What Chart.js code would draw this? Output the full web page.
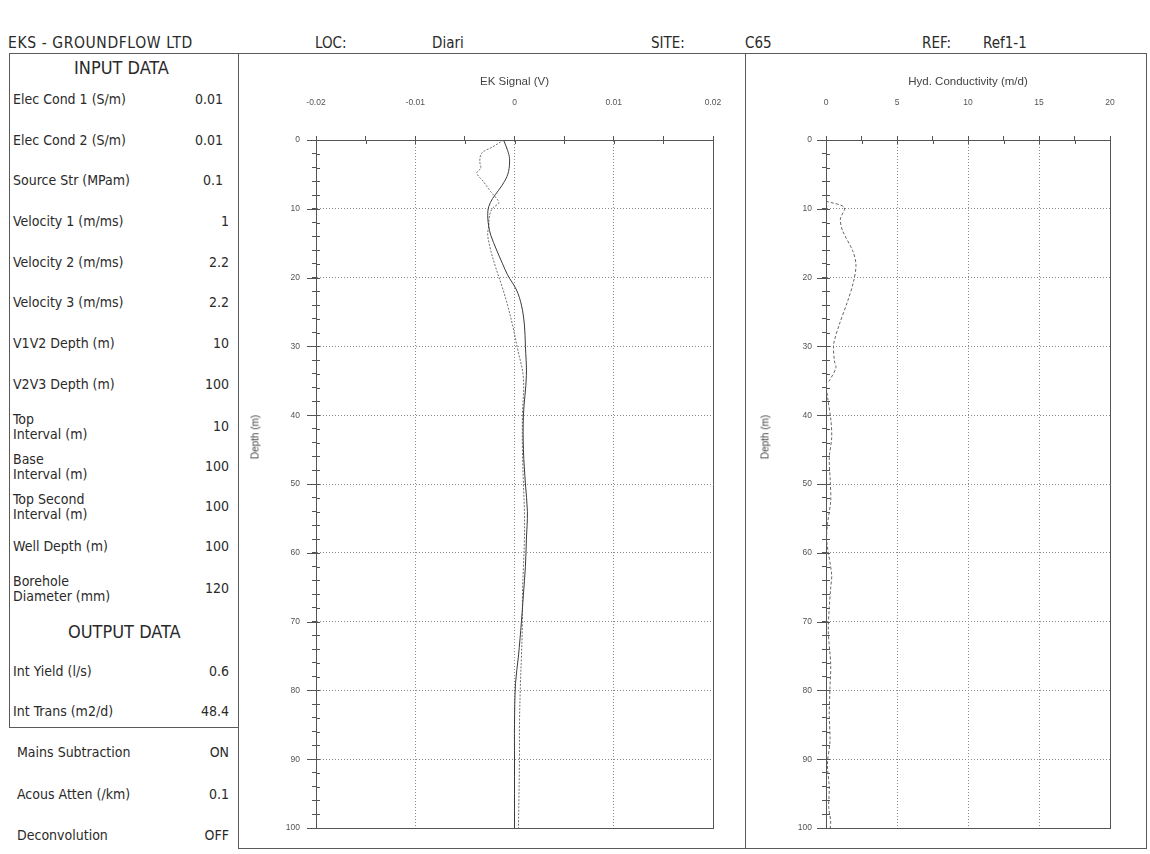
<!DOCTYPE html>
<html><head><meta charset="utf-8">
<script src="https://cdn.jsdelivr.net/npm/chart.js@4.4.1/dist/chart.umd.min.js"></script>
<style>
body{margin:0;width:1150px;height:854px;background:#fff;position:relative;overflow:hidden;font-family:'DejaVu Sans Condensed','DejaVu Sans',sans-serif;color:#2a2a2a;}
.t{position:absolute;white-space:nowrap;font-size:14px;line-height:15px;}
.r{text-align:right;}
.hd{position:absolute;white-space:nowrap;font-size:15px;line-height:18px;top:34px;}
.big{position:absolute;white-space:nowrap;font-size:18px;line-height:20px;}
.ln{position:absolute;background:#5a5a5a;}
.yt{position:absolute;white-space:nowrap;font-family:'Liberation Sans',Arial,sans-serif;font-size:10px;color:#444;transform:translate(-50%,-50%) rotate(-90deg);}
canvas{position:absolute;}
</style></head><body>

<div class="hd" style="left:8px;font-size:15.5px;letter-spacing:0.6px">EKS - GROUNDFLOW LTD</div>
<div class="hd" style="left:315px">LOC:</div>
<div class="hd" style="left:432px">Diari</div>
<div class="hd" style="left:651px">SITE:</div>
<div class="hd" style="left:745px">C65</div>
<div class="hd" style="left:922px">REF:</div>
<div class="hd" style="left:983px">Ref1-1</div>

<div class="ln" style="left:9px;top:53px;width:1138px;height:1px"></div>
<div class="ln" style="left:9px;top:53px;width:1px;height:675px"></div>
<div class="ln" style="left:9px;top:727px;width:230px;height:1px"></div>
<div class="ln" style="left:238px;top:53px;width:1px;height:796px"></div>
<div class="ln" style="left:745px;top:53px;width:1px;height:796px"></div>
<div class="ln" style="left:1146px;top:53px;width:1px;height:796px"></div>
<div class="ln" style="left:238px;top:848px;width:909px;height:1px"></div>

<div class="big" style="left:74px;top:58px">INPUT DATA</div>
<div class="t" style="left:13px;top:92px">Elec Cond 1 (S/m)</div><div class="t r" style="right:927px;top:92px">0.01</div>
<div class="t" style="left:13px;top:133px">Elec Cond 2 (S/m)</div><div class="t r" style="right:927px;top:133px">0.01</div>
<div class="t" style="left:13px;top:173px">Source Str (MPam)</div><div class="t r" style="right:927px;top:173px">0.1</div>
<div class="t" style="left:13px;top:214px">Velocity 1 (m/ms)</div><div class="t r" style="right:921px;top:214px">1</div>
<div class="t" style="left:13px;top:255px">Velocity 2 (m/ms)</div><div class="t r" style="right:921px;top:255px">2.2</div>
<div class="t" style="left:13px;top:295px">Velocity 3 (m/ms)</div><div class="t r" style="right:921px;top:295px">2.2</div>
<div class="t" style="left:13px;top:336px">V1V2 Depth (m)</div><div class="t r" style="right:921px;top:336px">10</div>
<div class="t" style="left:13px;top:377px">V2V3 Depth (m)</div><div class="t r" style="right:921px;top:377px">100</div>
<div class="t" style="left:13px;top:412px">Top<br>Interval (m)</div><div class="t r" style="right:921px;top:419px">10</div>
<div class="t" style="left:13px;top:452px">Base<br>Interval (m)</div><div class="t r" style="right:921px;top:459px">100</div>
<div class="t" style="left:13px;top:492px">Top Second<br>Interval (m)</div><div class="t r" style="right:921px;top:499px">100</div>
<div class="t" style="left:13px;top:539px">Well Depth (m)</div><div class="t r" style="right:921px;top:539px">100</div>
<div class="t" style="left:13px;top:574px">Borehole<br>Diameter (mm)</div><div class="t r" style="right:921px;top:581px">120</div>
<div class="big" style="left:68px;top:622px">OUTPUT DATA</div>
<div class="t" style="left:13px;top:664px">Int Yield (l/s)</div><div class="t r" style="right:921px;top:664px">0.6</div>
<div class="t" style="left:13px;top:704px">Int Trans (m2/d)</div><div class="t r" style="right:921px;top:704px">48.4</div>
<div class="t" style="left:17px;top:745px">Mains Subtraction</div><div class="t r" style="right:921px;top:745px">ON</div>
<div class="t" style="left:17px;top:787px">Acous Atten (/km)</div><div class="t r" style="right:921px;top:787px">0.1</div>
<div class="t" style="left:17px;top:828px">Deconvolution</div><div class="t r" style="right:921px;top:828px">OFF</div>

<canvas id="ek" width="500" height="790" style="left:240px;top:56px"></canvas>
<canvas id="hyd" width="396" height="790" style="left:748px;top:56px"></canvas>
<div class="yt" style="left:255px;top:437px">Depth (m)</div>
<div class="yt" style="left:765px;top:437px">Depth (m)</div>

<script>
// ---- data ----
const ekSolidDepth  = [0, 1.5, 2.7, 4.6, 6, 7.3, 8.5, 9.7, 11, 12.5, 13.8, 16, 18, 19.6, 21.8, 24, 26.9, 30, 34.2, 40, 45, 50, 54, 58, 62, 66, 70, 75, 79, 85, 90, 100];
const ekSolidSignal = [-0.0011, -0.0007, -0.0005, -0.0006, -0.0010, -0.0016, -0.0022, -0.0026, -0.0027, -0.0026, -0.0024, -0.0018, -0.0012, -0.0007, 0.0002, 0.0007, 0.0010, 0.0011, 0.0012, 0.0009, 0.0009, 0.0011, 0.0013, 0.0012, 0.0011, 0.0009, 0.0007, 0.0004, 0.0001, 0.0000, 0.0000, 0.0000];
const ekDashedDepth  = [0, 1, 1.9, 3.1, 4.1, 4.8, 6.1, 7.5, 8.7, 9.2, 9.9, 10.9, 12.5, 13.8, 16, 18.5, 21.1, 24, 26.9, 30.3, 34.6, 40, 45, 50, 54, 58, 62, 66, 70, 75, 79, 85, 90, 100];
const ekDashedSignal = [-0.0011, -0.0022, -0.0033, -0.0035, -0.0034, -0.0038, -0.0031, -0.0024, -0.0017, -0.0016, -0.0022, -0.0025, -0.0026, -0.0027, -0.0024, -0.0019, -0.0013, -0.0007, -0.0002, 0.0003, 0.0009, 0.0008, 0.0008, 0.0009, 0.0010, 0.0010, 0.0009, 0.0008, 0.0008, 0.0007, 0.0006, 0.0005, 0.0005, 0.0004];
const hydDepth = [8.9, 9.8, 11.5, 13.2, 16.1, 18.1, 20.5, 23.4, 26.8, 29.7, 32.1, 33.1, 35.0, 35.5, 37.5, 40.8, 43.3, 46.2, 49.6, 52.5, 55.9, 58.3, 63.2, 65.1, 68.0, 71.4, 76.2, 79.6, 83.5, 87.4, 90.7, 94.1, 97.0, 99.0, 100];
const hydK     = [0, 1.29, 1.01, 1.17, 1.88, 2.11, 1.95, 1.53, 0.94, 0.54, 0.59, 0.70, 0.23, 0.02, 0.12, 0.35, 0.40, 0.23, 0.30, 0.33, 0.10, 0.05, 0.40, 0.33, 0.23, 0.16, 0.33, 0.28, 0.23, 0.28, 0.10, 0.23, 0.19, 0.33, 0.30];
const ekTickLabels  = ['-0.02', '-0.01', '0', '0.01', '0.02'];
const hydTickLabels = ['0', '5', '10', '15', '20'];
const depthTickLabels = ['0','10','20','30','40','50','60','70','80','90','100'];

const FONT = "'Liberation Sans', Arial, sans-serif";
const pts = (ys, xs) => ys.map((d, i) => ({x: xs[i], y: d}));

const crossTicks = {
  id: 'crossTicks',
  afterDraw(chart) {
    const {ctx, chartArea: a} = chart;
    const xs = chart.scales.x, ys = chart.scales.y;
    ctx.save(); ctx.strokeStyle = '#555'; ctx.lineWidth = 1; ctx.beginPath();
    xs.ticks.forEach(t => {
      const p = Math.round(xs.getPixelForValue(t.value)) + 0.5;
      if (p <= a.left + 1 || p >= a.right - 1) return;
      ctx.moveTo(p, a.top); ctx.lineTo(p, a.top + 4);
    });
    ys.ticks.forEach(t => {
      const p = Math.round(ys.getPixelForValue(t.value)) + 0.5;
      if (t.label) { ctx.moveTo(a.left - 9, p); ctx.lineTo(a.left, p); }
      if (p <= a.top + 1 || p >= a.bottom - 1) return;
      ctx.moveTo(a.left, p); ctx.lineTo(a.left + 4, p);
    });
    ctx.stroke(); ctx.restore();
  }
};

function majorLabel(v, min, step, labels) {
  const r = (v - min) / step, i = Math.round(r);
  return Math.abs(r - i) < 1e-6 ? labels[i] : '';
}

function makeOptions(xmin, xmax, xstep, xmajor, xLabels, xTitle, leftW, padRight, yPad) {
  return {
    responsive: false, animation: false,
    layout: {padding: {top: 0, left: 0, right: padRight, bottom: 18}},
    plugins: {legend: {display: false}, tooltip: {enabled: false}},
    scales: {
      x: {
        type: 'linear', position: 'top', min: xmin, max: xmax,
        ticks: {stepSize: xstep, autoSkip: false, maxRotation: 0, padding: 28, color: '#555',
                font: {family: FONT, size: 8.5},
                callback: v => majorLabel(v, xmin, xmajor, xLabels)},
        grid: {color: c => (c.tick && majorLabel(c.tick.value, xmin, xmajor, xLabels) !== '') ? '#8a8a8a' : 'rgba(0,0,0,0)',
               lineWidth: 1, tickLength: 4, tickColor: '#555'},
        border: {display: true, color: '#555', width: 1, dash: [1, 2]},
        title: {display: true, text: xTitle, color: '#444', font: {family: FONT, size: 11.5}, padding: {top: 19, bottom: 0}},
        afterFit: s => { s.height = 84; s.paddingLeft = 0; s.paddingRight = 0; }
      },
      y: {
        type: 'linear', position: 'left', reverse: true, min: 0, max: 100,
        ticks: {stepSize: 2, autoSkip: false, padding: yPad, color: '#555', font: {family: FONT, size: 8.5},
                callback: v => majorLabel(v, 0, 10, depthTickLabels)},
        grid: {color: c => (c.tick && majorLabel(c.tick.value, 0, 10, depthTickLabels) !== '') ? '#8a8a8a' : 'rgba(0,0,0,0)',
               lineWidth: 1, tickLength: 4, tickColor: '#555'},
        border: {display: true, color: '#555', width: 1, dash: [1, 2]},
        afterFit: s => { s.width = leftW; s.paddingTop = 0; s.paddingBottom = 0; }
      },
      x2: {type: 'linear', position: 'bottom', min: xmin, max: xmax,
           ticks: {display: false}, grid: {display: false, drawTicks: false},
           border: {display: true, color: '#555', width: 1},
           afterFit: s => { s.height = 0; s.paddingLeft = 0; s.paddingRight = 0; }},
      y2: {type: 'linear', position: 'right', min: 0, max: 100,
           ticks: {display: false}, grid: {display: false, drawTicks: false},
           border: {display: true, color: '#555', width: 1},
           afterFit: s => { s.width = 0; s.paddingTop = 0; s.paddingBottom = 0; }}
    }
  };
}

new Chart(document.getElementById('ek'), {
  type: 'scatter',
  data: {datasets: [
    {data: pts(ekSolidDepth, ekSolidSignal), showLine: true, borderColor: '#3a3a3a', borderWidth: 1, pointRadius: 0, tension: 0.35},
    {data: pts(ekDashedDepth, ekDashedSignal), showLine: true, borderColor: '#707070', borderWidth: 1, borderDash: [2, 1.5], pointRadius: 0, tension: 0.35}
  ]},
  options: makeOptions(-0.02, 0.02, 0.005, 0.01, ekTickLabels, 'EK Signal (V)', 76, 27, 12),
  plugins: [crossTicks]
});

new Chart(document.getElementById('hyd'), {
  type: 'scatter',
  data: {datasets: [
    {data: pts(hydDepth, hydK), showLine: true, borderColor: '#666', borderWidth: 1, borderDash: [3, 2], pointRadius: 0, tension: 0.3}
  ]},
  options: makeOptions(0, 20, 2.5, 5, hydTickLabels, 'Hyd. Conductivity (m/d)', 78, 34, 10),
  plugins: [crossTicks]
});
</script>
</body></html>
